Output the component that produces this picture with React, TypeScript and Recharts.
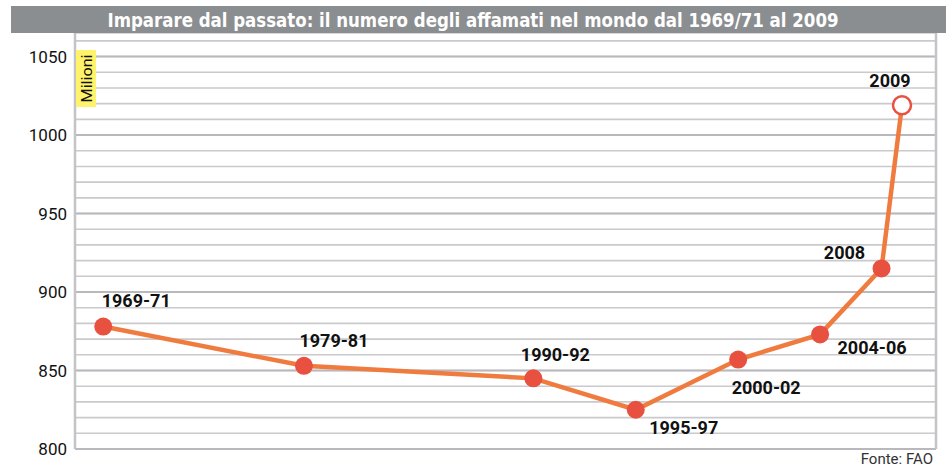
import React from "react";
import { LineChart, Line, XAxis, YAxis, CartesianGrid, ReferenceLine, LabelList } from "recharts";

const periods = ["1969-71", "1979-81", "1990-92", "1995-97", "2000-02", "2004-06", "2008", "2009"];
const yearPositions = [1970, 1979.8, 1991, 1996, 2001, 2005, 2008, 2009];
const hungryMillions = [878, 853, 845, 825, 857, 873, 915, 1019];
const yTicks = [800, 810, 820, 830, 840, 850, 860, 870, 880, 890, 900, 910, 920, 930, 940, 950, 960, 970, 980, 990, 1000, 1010, 1020, 1030, 1040, 1050, 1060];
const yLabelTicks = [800, 850, 900, 950, 1000, 1050];
const titleText = "Imparare dal passato: il numero degli affamati nel mondo dal 1969/71 al 2009";
const unitText = "Milioni";
const sourceText = "Fonte: FAO";

// label placement offsets relative to each point (style, not data)
const labelOffsets: [number, number][] = [
  [33, -26],
  [30, -25],
  [22, -24],
  [48, 18],
  [28, 28],
  [52, 13],
  [-37, -16],
  [-12, -25],
];

const data = periods.map((p, i) => ({ period: p, x: yearPositions[i], v: hungryMillions[i] }));

const W = 946;
const H = 468;
const LINE = "#f07b3f";
const DOT = "#e8503f";

const renderDot = (props: any) => {
  const { cx, cy, index } = props;
  if (cx == null || cy == null) return <g key={`d${index}`} />;
  if (index === data.length - 1) {
    return <circle key={`d${index}`} cx={cx} cy={cy} r={9} fill="#ffffff" stroke={DOT} strokeWidth={2.5} />;
  }
  return <circle key={`d${index}`} cx={cx} cy={cy} r={9} fill={DOT} stroke="none" />;
};

const renderLabel = (props: any) => {
  const { x, y, index, value } = props;
  const off = labelOffsets[index] || [0, -20];
  return (
    <text
      key={`l${index}`}
      x={x + off[0]}
      y={y + off[1]}
      textAnchor="middle"
      dominantBaseline="central"
      fontFamily="Roboto, 'DejaVu Sans', sans-serif"
      fontWeight={700}
      fontSize={18}
      fill="#111111"
    >
      {value}
    </text>
  );
};

export default function App() {
  return (
    <div style={{ position: "absolute", left: 0, top: 0, width: W, height: H, background: "#ffffff" }}>
      <LineChart
        width={W}
        height={H}
        data={data}
        margin={{ top: 33, right: 10, bottom: 19, left: 15 }}
      >
        <CartesianGrid vertical={false} stroke="#cacacd" strokeWidth={1.6} />
        <XAxis type="number" dataKey="x" domain={[1968.62, 2010.66]} hide allowDataOverflow />
        <YAxis
          type="number"
          domain={[800, 1065]}
          ticks={yTicks}
          interval={0}
          width={60}
          allowDataOverflow
          tickLine={false}
          axisLine={{ stroke: "#c4c4c8", strokeWidth: 2.5 }}
          tickFormatter={(v: number) => (yLabelTicks.includes(v) ? String(v) : "")}
          tick={{ fill: "#111111", fontSize: 17, fontFamily: "Roboto, sans-serif" }}
        />
        {yLabelTicks.map((t) => (
          <ReferenceLine key={`m${t}`} y={t} stroke="#b9b9bd" strokeWidth={2} />
        ))}
        <ReferenceLine x={2010.66} stroke="#c4c4c8" strokeWidth={2.5} ifOverflow="visible" />
        <Line
          type="linear"
          dataKey="v"
          stroke={LINE}
          strokeWidth={4.5}
          dot={renderDot}
          activeDot={false}
          isAnimationActive={false}
        >
          <LabelList dataKey="period" content={renderLabel} />
        </Line>
      </LineChart>
      <svg
        width={W}
        height={H}
        style={{ position: "absolute", left: 0, top: 0, pointerEvents: "none" }}
      >
        <rect x={11} y={6} width={W - 11} height={27} fill="#8b8e91" />
        <text
          x={473}
          y={19.5}
          textAnchor="middle"
          dominantBaseline="central"
          fill="#ffffff"
          fontFamily="'Liberation Sans Narrow', 'DejaVu Sans Condensed', sans-serif"
          fontWeight={700}
          fontSize={20}
          textLength={731}
          lengthAdjust="spacingAndGlyphs"
        >
          {titleText}
        </text>
        <rect x={76} y={50} width={20} height={57} fill="#fff36b" />
        <text
          x={0}
          y={0}
          transform="translate(86.5,78.5) rotate(-90)"
          textAnchor="middle"
          dominantBaseline="central"
          fill="#111111"
          fontFamily="Roboto, sans-serif"
          fontSize={15}
          textLength={48}
          lengthAdjust="spacingAndGlyphs"
        >
          {unitText}
        </text>
        <text
          x={933}
          y={459}
          textAnchor="end"
          dominantBaseline="central"
          fill="#333333"
          fontFamily="Roboto, sans-serif"
          fontSize={15}
        >
          {sourceText}
        </text>
      </svg>
    </div>
  );
}
